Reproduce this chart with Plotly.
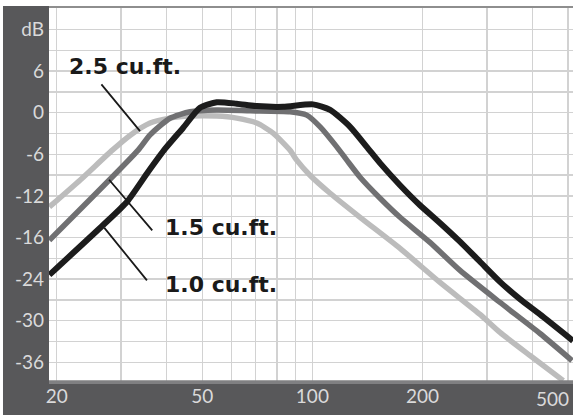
import math
import plotly.graph_objects as go

# ---- data (frequency in Hz, level in dB) ----
freq_10 = [19.1, 26.8, 31.2, 35.5, 39.6, 44.3, 49.3, 54.8, 62.1, 70.5, 83.2, 100.4, 111.8,
           126.8, 140.8, 153.1, 173.6, 196.9, 223.2, 253.2, 287.2, 325.7, 369.4, 418.9, 515.6]
db_10 = [-23.4, -16.2, -12.8, -8.6, -5.2, -2.2, 0.7, 1.5, 1.3, 0.95, 0.85, 1.2, 0.4,
         -2.04, -4.93, -7.28, -10.46, -13.35, -15.9, -18.6, -21.5, -24.4, -26.9, -29.1, -32.9]

freq_15 = [19.1, 33.4, 36.0, 40.8, 46.3, 54.8, 67.6, 86.9, 96.5, 105.0, 116.6, 124.2,
           135.0, 153.1, 173.6, 209.6, 253.2, 325.7, 418.9, 512.4]
db_15 = [-18.4, -5.4, -3.2, -0.8, 0.13, 0.38, 0.27, 0.13, -0.35, -2.04, -4.93, -6.85,
         -9.31, -12.34, -15.09, -18.7, -22.75, -27.37, -31.85, -35.75]

freq_25 = [19.1, 23.2, 28.4, 31.8, 36.0, 40.8, 46.3, 54.8, 62.1, 70.5, 78.1, 86.9,
           90.6, 98.5, 111.8, 135.0, 173.6, 223.2, 287.2, 325.7, 393.4, 484.9]
db_25 = [-13.6, -9.7, -5.4, -3.24, -1.5, -0.78, -0.49, -0.49, -0.78, -1.5, -2.95, -5.43,
         -6.85, -9.02, -11.62, -15.09, -19.57, -24.48, -29.1, -31.7, -35.03, -38.64]

series_names = ["2.5 cu.ft.", "1.5 cu.ft.", "1.0 cu.ft."]

x_grid = [20, 30, 40, 50, 60, 70, 80, 90, 100, 200, 300, 400, 500]
x_labels = ["20", "", "", "50", "", "", "", "", "100", "200", "", "", ""]
y_grid = list(range(-36, 13, 3))
y_label_map = {12: "dB", 6: "6", 0: "0", -6: "-6", -12: "-12", -18: "-16",
               -24: "-24", -30: "-30", -36: "-36"}
y_labels = [y_label_map.get(v, "") for v in y_grid]

# label pointer lines: (freq, dB) start -> end
pointer_25 = [(26.3, 4.3), (33.8, -2.66)]
pointer_15 = [(27.6, -9.45), (36.5, -16.97)]
pointer_10 = [(26.8, -16.39), (35.3, -24.19)]

DARK = "#58585a"
GRID = "#d2d2d2"
TICK_FONT = dict(family="Lato", size=19, color="#dadada")

fig = go.Figure()
fig.add_trace(go.Scatter(x=freq_25, y=db_25, mode="lines", name=series_names[0],
                         line=dict(color="#bcbcbc", width=5.5, shape="spline", smoothing=0.6)))
fig.add_trace(go.Scatter(x=freq_15, y=db_15, mode="lines", name=series_names[1],
                         line=dict(color="#707072", width=5.5, shape="spline", smoothing=0.6)))
fig.add_trace(go.Scatter(x=freq_10, y=db_10, mode="lines", name=series_names[2],
                         line=dict(color="#1c1c1c", width=6, shape="spline", smoothing=0.6)))

fig.update_layout(
    width=573, height=415,
    margin=dict(l=49, r=0, t=8, b=34, autoexpand=False),
    paper_bgcolor="white", plot_bgcolor="white",
    showlegend=False, hovermode=False,
    xaxis=dict(type="log", range=[math.log10(19.06), math.log10(515.6)],
               tickvals=x_grid, ticktext=x_labels, showgrid=True, automargin=False,
               gridcolor=GRID, gridwidth=1.3, zeroline=False, showline=False,
               ticks="", tickfont=TICK_FONT, ticklabelstandoff=2),
    yaxis=dict(range=[-38.7, 15.1], tickvals=y_grid, ticktext=y_labels, automargin=False,
               showgrid=True, gridcolor=GRID, gridwidth=1.3, zeroline=False,
               showline=False, ticks="", tickfont=TICK_FONT, ticklabelstandoff=4),
)

# dark frame (left column and bottom band)
fig.add_shape(type="rect", xref="paper", yref="paper", x0=-0.0878, x1=0, y0=-0.2, y1=1.0054,
              fillcolor=DARK, line_width=0, layer="below")
fig.add_shape(type="rect", xref="paper", yref="paper", x0=-0.0878, x1=1.01, y0=-0.2, y1=0,
              fillcolor=DARK, line_width=0, layer="below")
# bottom axis line and top border line
fig.add_shape(type="rect", xref="paper", yref="paper", x0=0, x1=1.01, y0=-0.008, y1=0.002,
              fillcolor="#808082", line_width=0, layer="above")
fig.add_shape(type="rect", xref="paper", yref="paper", x0=0, x1=1.01, y0=1.0, y1=1.0054,
              fillcolor="#8e8e8e", line_width=0, layer="above")

# 500 label (right aligned at edge)
fig.add_annotation(x=1.0, y=-0.047, xref="paper", yref="paper", text="500",
                   showarrow=False, xanchor="right", yanchor="middle", xshift=-2,
                   font=TICK_FONT)

# series labels
label_font = dict(family="DejaVu Sans", size=22, color="#1a1a1a", weight="bold")
for name, xp, yp in [(series_names[0], 0.0344, 0.842),
                     (series_names[1], 0.2176, 0.4115),
                     (series_names[2], 0.2176, 0.2574)]:
    fig.add_annotation(x=xp, y=yp, xref="paper", yref="paper", text=name,
                       showarrow=False, xanchor="left", yanchor="middle", font=label_font)

for (f0, d0), (f1, d1) in [pointer_25, pointer_15, pointer_10]:
    fig.add_annotation(x=math.log10(f1), y=d1, ax=math.log10(f0), ay=d0,
                       xref="x", yref="y", axref="x", ayref="y", text="",
                       showarrow=True, arrowhead=0, arrowwidth=1.8, arrowcolor="#1a1a1a",
                       standoff=0, startstandoff=0)

fig.write_html("out.html", config={"displayModeBar": False, "staticPlot": True},
               post_script="document.body.style.margin='0px';document.body.style.overflow='hidden';")
